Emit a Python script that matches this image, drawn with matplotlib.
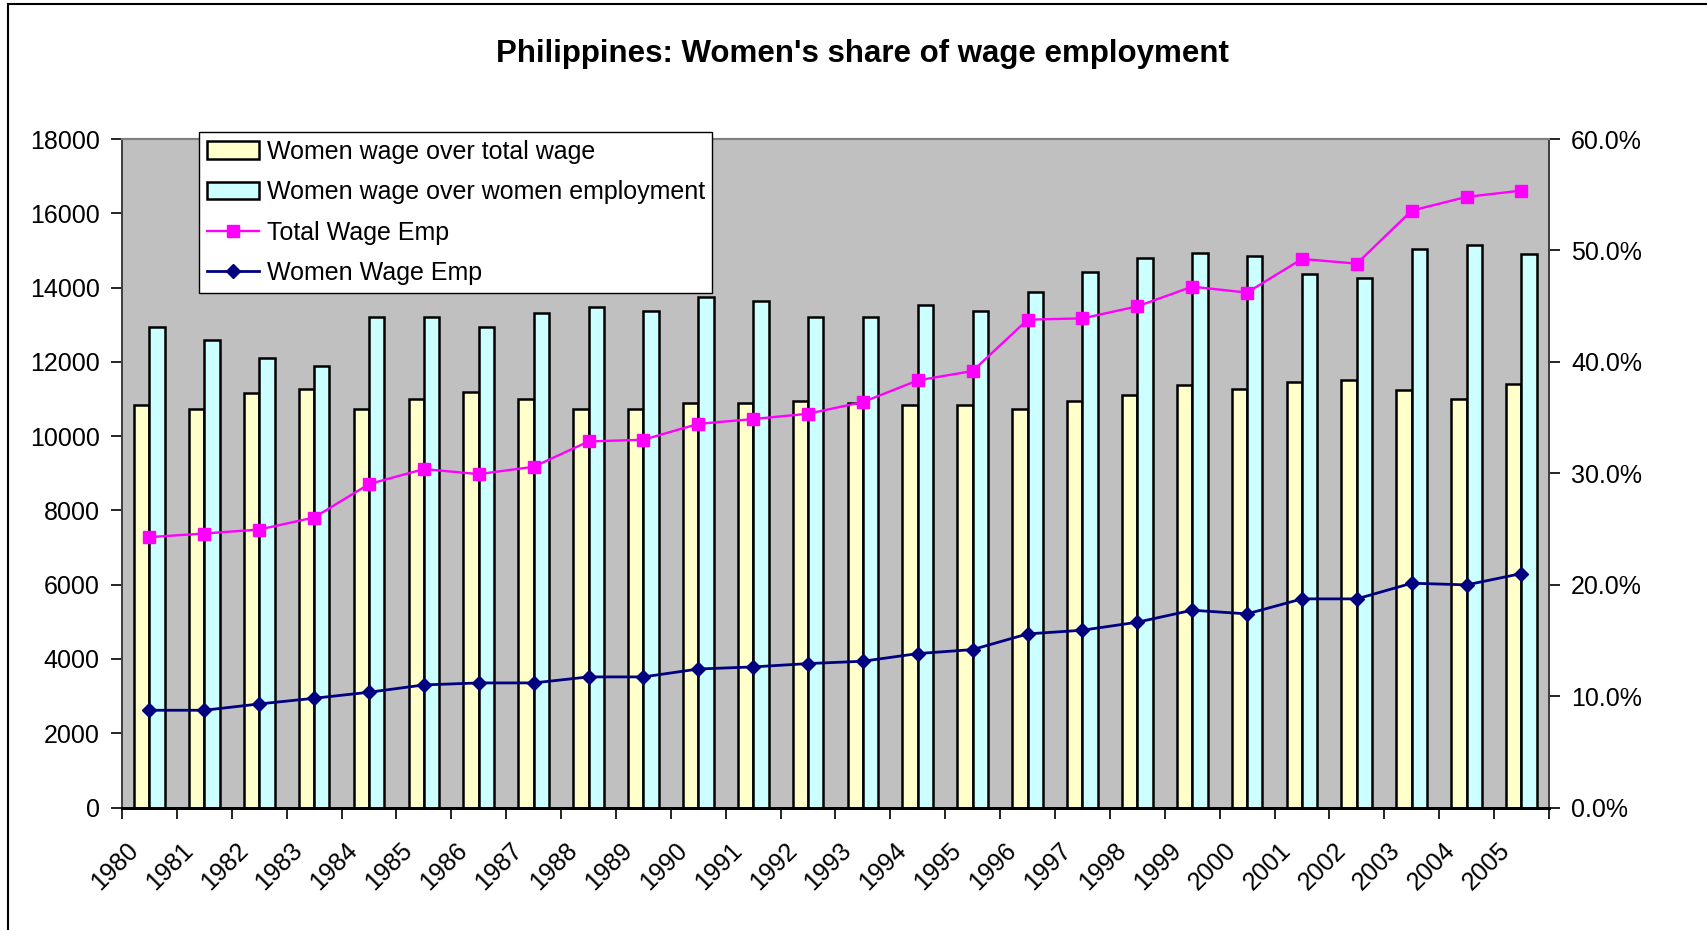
import numpy as np
import matplotlib
matplotlib.use('Agg')
import matplotlib.pyplot as plt
from matplotlib.lines import Line2D
from matplotlib.ticker import FuncFormatter, MultipleLocator

plt.rcParams['font.family'] = ['Liberation Sans', 'DejaVu Sans']

years = [str(y) for y in range(1980, 2006)]

# bars, right axis (%)
women_over_total = [36.15, 35.77, 37.2, 37.53, 35.77, 36.67, 37.33, 36.67, 35.79, 35.79,
                    36.3, 36.3, 36.52, 36.3, 36.15, 36.15, 35.77, 36.52, 37.02, 37.88,
                    37.52, 38.22, 38.4, 37.5, 36.67, 38.03]
women_over_women_emp = [43.13, 41.93, 40.33, 39.67, 44.0, 44.0, 43.16, 44.42, 44.9, 44.57,
                        45.79, 45.43, 44.0, 44.0, 45.07, 44.57, 46.3, 48.07, 49.3, 49.8,
                        49.47, 47.92, 47.53, 50.17, 50.53, 49.67]

# lines, left axis (thousands)
total_wage_emp = [7281, 7378, 7486, 7809, 8709, 9113, 8978, 9175, 9857, 9903,
                  10330, 10460, 10603, 10918, 11501, 11754, 13136, 13171, 13494, 14025,
                  13865, 14771, 14645, 16073, 16442, 16612]
women_wage_emp = [2619, 2619, 2789, 2942, 3104, 3301, 3355, 3355, 3517, 3517,
                  3730, 3786, 3876, 3939, 4145, 4253, 4675, 4774, 4990, 5313,
                  5214, 5618, 5618, 6040, 5995, 6300]

x = np.arange(len(years))
w = 0.28
fs = 18

fig = plt.figure(figsize=(17.07, 9.30), dpi=100)
ax = fig.add_axes([0.0715, 0.1317, 0.8359, 0.7188])
ax.set_facecolor('#C0C0C0')

b1 = ax.bar(x - w/2, women_over_total, w, color='#FFFFCC', edgecolor='black', linewidth=1.8,
            label='Women wage over total wage')
b2 = ax.bar(x + w/2, women_over_women_emp, w, color='#CCFFFF', edgecolor='black', linewidth=1.8,
            label='Women wage over women employment')
ax.set_ylim(0, 60)
ax.set_xlim(-0.5, len(years) - 0.5)

ax2 = ax.twinx()
l1, = ax2.plot(x, total_wage_emp, color='#FF00FF', lw=1.7, marker='s', ms=8.5,
               label='Total Wage Emp')
l2, = ax2.plot(x, women_wage_emp, color='#000080', lw=2.0, marker='D', ms=7.5,
               label='Women Wage Emp')
ax2.set_ylim(0, 18000)

# percent axis on the right, thousands on the left
ax.yaxis.tick_right()
ax.yaxis.set_label_position('right')
ax2.yaxis.tick_left()
ax2.yaxis.set_label_position('left')
ax.yaxis.set_major_locator(MultipleLocator(10))
ax.yaxis.set_major_formatter(FuncFormatter(lambda v, p: '%.1f%%' % v))
ax2.yaxis.set_major_locator(MultipleLocator(2000))
ax.tick_params(axis='y', direction='out', length=8, width=1.2, pad=8, labelsize=fs,
               left=False, labelleft=False, right=True, labelright=True)
ax2.tick_params(axis='y', direction='out', length=8, width=1.2, pad=8, labelsize=fs,
                left=True, labelleft=True, right=False, labelright=False)

# x axis: tick marks on category boundaries, labels shifted left
ax.set_xticks(np.arange(len(years) + 1) - 0.5, minor=True)
ax.set_xticks(x - 0.43)
ax.set_xticklabels(years, rotation=45, ha='right', va='top', rotation_mode='anchor')
ax.tick_params(axis='x', which='major', length=0, pad=22, labelsize=fs)
ax.tick_params(axis='x', which='minor', direction='out', length=8, width=1.2)

for a in (ax, ax2):
    a.spines['top'].set_color('#808080')
    a.spines['top'].set_linewidth(1.5)
    a.spines['left'].set_color('#404040')
    a.spines['right'].set_color('#404040')
    a.spines['left'].set_linewidth(1.3)
    a.spines['right'].set_linewidth(1.3)
    a.spines['bottom'].set_color('black')
    a.spines['bottom'].set_linewidth(2)

ax2.legend([b1, b2, l1, l2], [b1.get_label(), b2.get_label(), l1.get_label(), l2.get_label()],
           loc='upper left', bbox_to_anchor=(0.1166, 0.858), bbox_transform=fig.transFigure,
           fontsize=fs, frameon=True, fancybox=False, edgecolor='black', framealpha=1,
           borderaxespad=0, handlelength=2.1, labelspacing=0.66, handletextpad=0.3,
           borderpad=0.3)

fig.suptitle("Philippines: Women's share of wage employment", x=0.505, y=0.942,
             fontsize=22.5, fontweight='bold', va='center')

# chart frame
fig.add_artist(Line2D([8/1707, 8/1707], [0, 1 - 4/930], transform=fig.transFigure, color='black', lw=1.5))
fig.add_artist(Line2D([8/1707, 1], [1 - 4/930, 1 - 4/930], transform=fig.transFigure, color='black', lw=1.5))

plt.savefig('out.png', dpi=100)
